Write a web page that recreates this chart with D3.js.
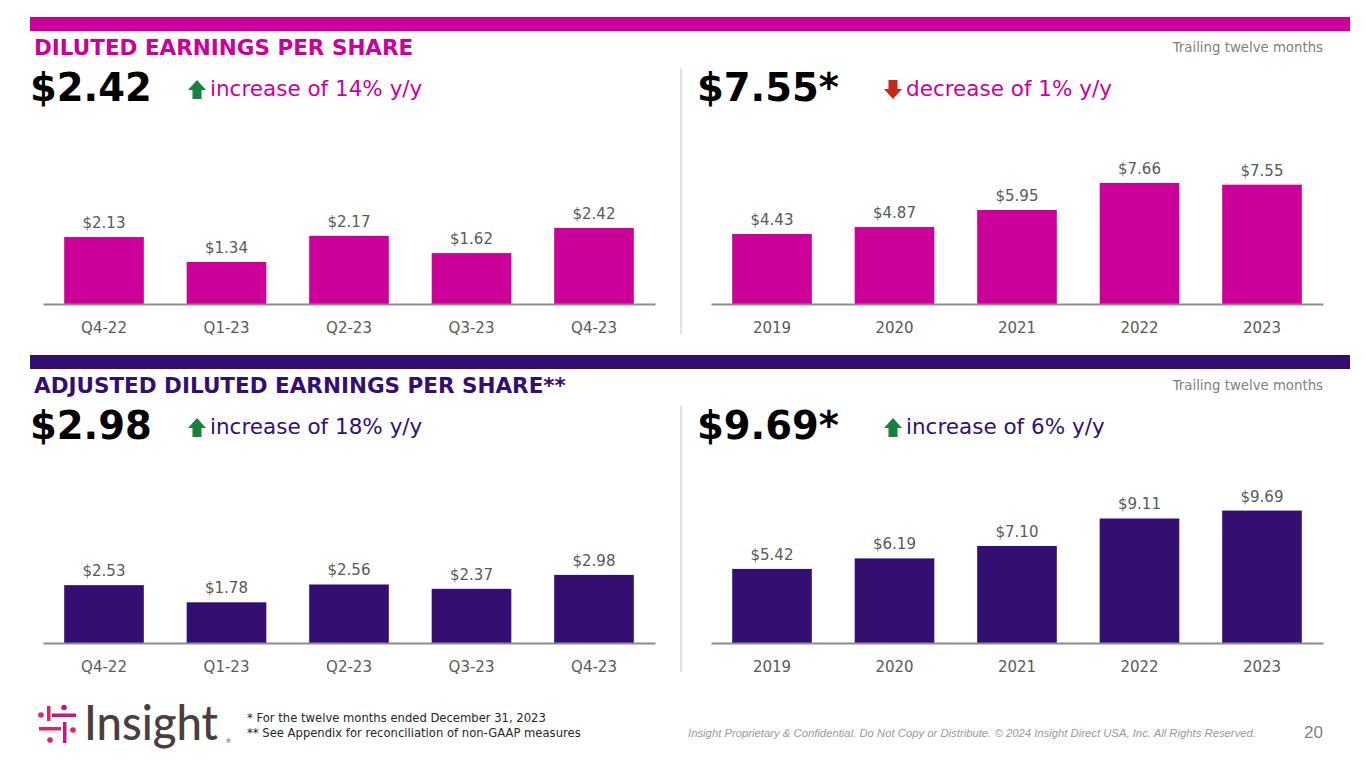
<!DOCTYPE html>
<html><head><meta charset="utf-8">
<script src="https://cdn.jsdelivr.net/npm/d3@7"></script>
<style>
html,body{margin:0;padding:0;background:#fff;}
svg{display:block;}
</style></head>
<body>
<svg id="chart" width="1365" height="768"></svg>
<script>
// ---- data ----
const quarters = ["Q4-22","Q1-23","Q2-23","Q3-23","Q4-23"];
const years = ["2019","2020","2021","2022","2023"];
const dilutedQuarterly = [2.13,1.34,2.17,1.62,2.42];
const dilutedTTM = [4.43,4.87,5.95,7.66,7.55];
const adjustedQuarterly = [2.53,1.78,2.56,2.37,2.98];
const adjustedTTM = [5.42,6.19,7.10,9.11,9.69];
const sectionTitles = ["DILUTED EARNINGS PER SHARE","ADJUSTED DILUTED EARNINGS PER SHARE**"];
const headlineValues = ["$2.42","$7.55*","$2.98","$9.69*"];
const changeTexts = ["increase of 14% y/y","decrease of 1% y/y","increase of 18% y/y","increase of 6% y/y"];
const changeDirs = ["up","down","up","up"];
const footnotes = ["* For the twelve months ended December 31, 2023","** See Appendix for reconciliation of non-GAAP measures"];

const MAGENTA = "#cc0099", PURPLE = "#330f72", GREEN = "#18813f", RED = "#c42a1c";
const svg = d3.select("#chart");
const FONT = "'DejaVu Sans', Verdana, sans-serif";

function fmt(v){ return "$" + v.toFixed(2); }

function arrow(g, x, y, dir, color){
  const p = dir === "up"
    ? [[9,0],[18,10],[13.5,10],[13.5,19],[4.5,19],[4.5,10],[0,10]]
    : [[4.5,0],[13.5,0],[13.5,9],[18,9],[9,19],[0,9],[4.5,9]];
  g.append("path").attr("d", d3.line()(p.map(d=>[x+d[0], y+d[1]])) + "Z").attr("fill", color);
}

function section(cfg){
  const g = svg.append("g");
  g.append("rect").attr("x",30).attr("y",cfg.top).attr("width",1320).attr("height",14).attr("fill",cfg.color);
  g.append("text").attr("x",34).attr("y",cfg.top+38).attr("font-family",FONT).attr("font-weight","bold")
    .attr("font-size",21.5).attr("fill",cfg.color).text(cfg.title);
  g.append("text").attr("x",1323).attr("y",cfg.top+35).attr("font-family",FONT).attr("font-size",13.3)
    .attr("text-anchor","end").attr("fill","#7f7f7f").text("Trailing twelve months");
  g.append("line").attr("x1",681).attr("x2",681).attr("y1",cfg.top+51).attr("y2",cfg.top+317)
    .attr("stroke","#d9d9d9").attr("stroke-width",1.5);
  cfg.panels.forEach(p => {
    g.append("text").attr("x",p.x0).attr("y",cfg.top+84).attr("font-family",FONT).attr("font-weight","bold")
      .attr("font-size",38.5).attr("fill","#000").text(p.headline);
    arrow(g, p.arrowX, cfg.top+63, p.dir, p.dir==="up"?GREEN:RED);
    g.append("text").attr("x",p.arrowX+22).attr("y",cfg.top+79).attr("font-family",FONT)
      .attr("font-size",21.5).attr("fill",cfg.color).text(p.change);

    const x = d3.scaleBand().domain(p.cats).range([p.ax0, p.ax1]).paddingInner(0.35).paddingOuter(0.173);
    const y = d3.scaleLinear().domain([0, p.yMax]).range([cfg.base, cfg.base - p.plotH]);
    const data = p.cats.map((c,i)=>({c, v:p.vals[i]}));
    g.selectAll(null).data(data).enter().append("rect")
      .attr("x", d=>x(d.c)).attr("width", x.bandwidth())
      .attr("y", d=>y(d.v)).attr("height", d=>y(0)-y(d.v)).attr("fill", cfg.color);
    g.selectAll(null).data(data).enter().append("text")
      .attr("x", d=>x(d.c)+x.bandwidth()/2).attr("y", d=>y(d.v)-9)
      .attr("text-anchor","middle").attr("font-family",FONT).attr("font-size",15).attr("fill","#595959")
      .text(d=>fmt(d.v));
    const ax = g.append("g").attr("transform",`translate(0,${cfg.base})`)
      .call(d3.axisBottom(x).tickSize(0).tickPadding(18).tickSizeOuter(0));
    ax.select(".domain").attr("stroke","#8c8c8c").attr("stroke-width",2);
    ax.selectAll("text").attr("font-family",FONT).attr("font-size",15).attr("fill","#595959");
  });
}

section({top:17, color:MAGENTA, title:sectionTitles[0], base:304, panels:[
  {x0:30, arrowX:188, headline:headlineValues[0], change:changeTexts[0], dir:changeDirs[0],
   cats:quarters, vals:dilutedQuarterly, ax0:43, ax1:655, yMax:3.5, plotH:110},
  {x0:697, arrowX:884, headline:headlineValues[1], change:changeTexts[1], dir:changeDirs[1],
   cats:years, vals:dilutedTTM, ax0:711, ax1:1323, yMax:10, plotH:158}
]});
section({top:355, color:PURPLE, title:sectionTitles[1], base:643, panels:[
  {x0:30, arrowX:188, headline:headlineValues[2], change:changeTexts[2], dir:changeDirs[2],
   cats:quarters, vals:adjustedQuarterly, ax0:43, ax1:655, yMax:3.5, plotH:80},
  {x0:697, arrowX:884, headline:headlineValues[3], change:changeTexts[3], dir:changeDirs[3],
   cats:years, vals:adjustedTTM, ax0:711, ax1:1323, yMax:12, plotH:164}
]});

// ---- footer ----
const logo = svg.append("g").attr("transform","translate(38,704)");
const LR = "#e0245e", LM = "#c0188c";
logo.append("circle").attr("cx",3).attr("cy",11).attr("r",2.8).attr("fill",LR);
logo.append("rect").attr("x",9).attr("y",2).attr("width",3.5).attr("height",15).attr("fill",LR);
logo.append("rect").attr("x",14).attr("y",9.5).attr("width",24).attr("height",3.5).attr("fill",LM);
logo.append("circle").attr("cx",26).attr("cy",3.5).attr("r",2.8).attr("fill",LM);
logo.append("rect").attr("x",1).attr("y",23).attr("width",22).attr("height",3.5).attr("fill",LR);
logo.append("rect").attr("x",25).attr("y",18).attr("width",3.5).attr("height",21).attr("fill",LM);
logo.append("circle").attr("cx",35).attr("cy",26).attr("r",2.8).attr("fill",LR);
logo.append("circle").attr("cx",12).attr("cy",36).attr("r",2.8).attr("fill",LR);
svg.append("text").attr("x",84).attr("y",740).attr("font-family","Lato, sans-serif").attr("font-weight",500)
  .attr("font-size",49).attr("fill","#4a3e3e").attr("textLength",134).attr("lengthAdjust","spacingAndGlyphs").text("Insight");
svg.append("text").attr("x",226).attr("y",743).attr("font-family","Lato, sans-serif").attr("font-size",6)
  .attr("fill","#4a3e3e").text("®");

footnotes.forEach((t,i)=>{
  svg.append("text").attr("x",247).attr("y",722+i*15).attr("font-family",FONT).attr("font-size",11.6)
    .attr("fill","#262626").text(t);
});
svg.append("text").attr("x",1256).attr("y",737).attr("text-anchor","end")
  .attr("font-family","'Liberation Sans', Arial, sans-serif").attr("font-style","italic").attr("font-size",11.3)
  .attr("fill","#9a9a9a").text("Insight Proprietary & Confidential. Do Not Copy or Distribute. © 2024 Insight Direct USA, Inc. All Rights Reserved.");
svg.append("text").attr("x",1323).attr("y",738).attr("text-anchor","end")
  .attr("font-family","'Liberation Sans', Arial, sans-serif").attr("font-size",17)
  .attr("fill","#808080").text("20");
</script>
</body></html>
